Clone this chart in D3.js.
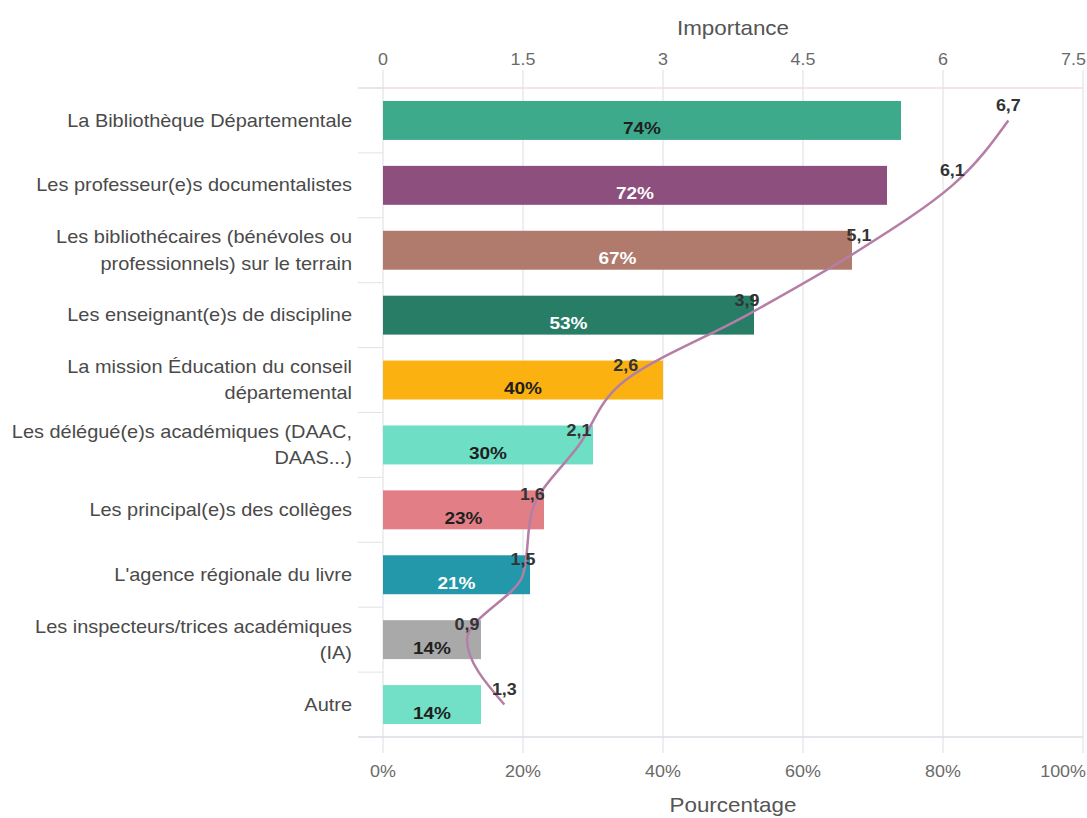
<!DOCTYPE html>
<html>
<head>
<meta charset="utf-8">
<script src="https://cdn.jsdelivr.net/npm/d3@7"></script>
<style>
  html, body { margin: 0; padding: 0; background: #fff; }
  svg { display: block; font-family: "Liberation Sans", Arial, sans-serif; }
</style>
</head>
<body>
<svg id="chart" width="1087" height="818"></svg>
<script>
// ---- data ----
const categories = [
  "La Bibliothèque Départementale",
  "Les professeur(e)s documentalistes",
  "Les bibliothécaires (bénévoles ou|professionnels) sur le terrain",
  "Les enseignant(e)s de discipline",
  "La mission Éducation du conseil|départemental",
  "Les délégué(e)s académiques (DAAC,|DAAS...)",
  "Les principal(e)s des collèges",
  "L'agence régionale du livre",
  "Les inspecteurs/trices académiques|(IA)",
  "Autre"
];
const percentages = [74, 72, 67, 53, 40, 30, 23, 21, 14, 14];
const importance = [6.7, 6.1, 5.1, 3.9, 2.6, 2.1, 1.6, 1.5, 0.9, 1.3];
const barColors = ["#3dab8b", "#8c4f7e", "#b07a6c", "#277d66", "#fbb10f",
                   "#6edec4", "#e27f86", "#2398aa", "#a9a9a9", "#72e0c6"];
const labelColors = ["#1f1f1f", "#ffffff", "#ffffff", "#ffffff", "#1f1f1f",
                     "#1f1f1f", "#1f1f1f", "#ffffff", "#1f1f1f", "#1f1f1f"];
const percentTicks = [0, 20, 40, 60, 80, 100];
const importanceTicks = [0, 1.5, 3, 4.5, 6, 7.5];

// ---- layout ----
const svg = d3.select("#chart");
const pLeft = 383, pRight = 1083, pTop = 88, pBottom = 737;
const SX = 1.12; // horizontal text stretch

const x = d3.scaleLinear().domain([0, 100]).range([pLeft, pRight]);
const xi = d3.scaleLinear().domain([0, 7.5]).range([pLeft, pRight]);
const y = d3.scaleBand().domain(categories).range([pTop, pBottom])
  .paddingInner(0.4).paddingOuter(0.2);

function stretch(sel, px, py, sx) {
  sel.attr("transform", `translate(${px},${py}) scale(${sx || SX},1)`);
}

// gridlines
svg.append("g").selectAll("line").data(percentTicks).join("line")
  .attr("x1", d => x(d)).attr("x2", d => x(d))
  .attr("y1", 70).attr("y2", 753)
  .attr("stroke", "#dedde6").attr("stroke-width", 1);

// axis lines
svg.append("line").attr("x1", 358).attr("x2", pRight).attr("y1", pTop).attr("y2", pTop)
  .attr("stroke", "#ecdde5").attr("stroke-width", 1.5);
svg.append("line").attr("x1", 358).attr("x2", pRight).attr("y1", pBottom).attr("y2", pBottom)
  .attr("stroke", "#dedde6").attr("stroke-width", 1.5);

// category boundary ticks on left
const boundaries = d3.range(categories.length + 1).map(i => pTop + i * (pBottom - pTop) / categories.length);
svg.append("g").selectAll("line").data(boundaries).join("line")
  .attr("x1", 358).attr("x2", pLeft)
  .attr("y1", d => d).attr("y2", d => d)
  .attr("stroke", "#e3e1e6").attr("stroke-width", 1);

// tick label helper: last label kept inside the frame
function tickLabels(ticks, scale, yPos, fmt) {
  const last = ticks.length - 1;
  svg.append("g").selectAll("text").data(ticks).join("text")
    .each(function(d, i) {
      stretch(d3.select(this), i === last ? 1086 : scale(d), yPos);
    })
    .attr("text-anchor", (d, i) => i === last ? "end" : "middle")
    .attr("font-size", 16).attr("fill", "#6a6a6a")
    .text(fmt);
}
tickLabels(importanceTicks, xi, 65, d => d3.format("")(d));
tickLabels(percentTicks, x, 777, d => d + "%");

// axis titles
svg.append("text").call(s => stretch(s, (pLeft + pRight) / 2, 35))
  .attr("text-anchor", "middle").attr("font-size", 20).attr("fill", "#555")
  .text("Importance");
svg.append("text").call(s => stretch(s, (pLeft + pRight) / 2, 812))
  .attr("text-anchor", "middle").attr("font-size", 20).attr("fill", "#555")
  .text("Pourcentage");

// category labels
const catG = svg.append("g");
categories.forEach(c => {
  const lines = c.split("|");
  const cy = y(c) + y.bandwidth() / 2;
  const lh = 26.5;
  lines.forEach((ln, i) => {
    const ly = cy + (i - (lines.length - 1) / 2) * lh;
    catG.append("text")
      .call(s => stretch(s, 352, ly, 1.14))
      .attr("dy", "0.35em")
      .attr("text-anchor", "end")
      .attr("font-size", 17.5).attr("fill", "#4a4a4a")
      .text(ln);
  });
});

// bars
svg.append("g").selectAll("rect").data(categories).join("rect")
  .attr("x", x(0))
  .attr("y", d => y(d))
  .attr("width", (d, i) => x(percentages[i]) - x(0))
  .attr("height", y.bandwidth())
  .attr("fill", (d, i) => barColors[i]);

// bar labels
svg.append("g").selectAll("text").data(categories).join("text")
  .each(function(d, i) {
    stretch(d3.select(this), (x(0) + x(percentages[i])) / 2, y(d) + y.bandwidth() / 2 + 8);
  })
  .attr("dy", "0.35em")
  .attr("text-anchor", "middle")
  .attr("font-size", 17).attr("font-weight", "bold")
  .attr("fill", (d, i) => labelColors[i])
  .text((d, i) => percentages[i] + "%");

// importance line
const pts = categories.map((c, i) => [xi(importance[i]), y(c) + y.bandwidth() / 2]);
svg.append("path")
  .attr("d", d3.line().curve(d3.curveMonotoneY)(pts))
  .attr("fill", "none")
  .attr("stroke", "#b57ea6")
  .attr("stroke-width", 2.5);

// importance labels
svg.append("g").selectAll("text").data(categories).join("text")
  .each(function(d, i) { stretch(d3.select(this), pts[i][0], pts[i][1] - 15); })
  .attr("dy", "0.35em")
  .attr("text-anchor", "middle")
  .attr("font-size", 16).attr("font-weight", "bold")
  .attr("fill", "#333")
  .text((d, i) => String(importance[i]).replace(".", ","));
</script>
</body>
</html>
